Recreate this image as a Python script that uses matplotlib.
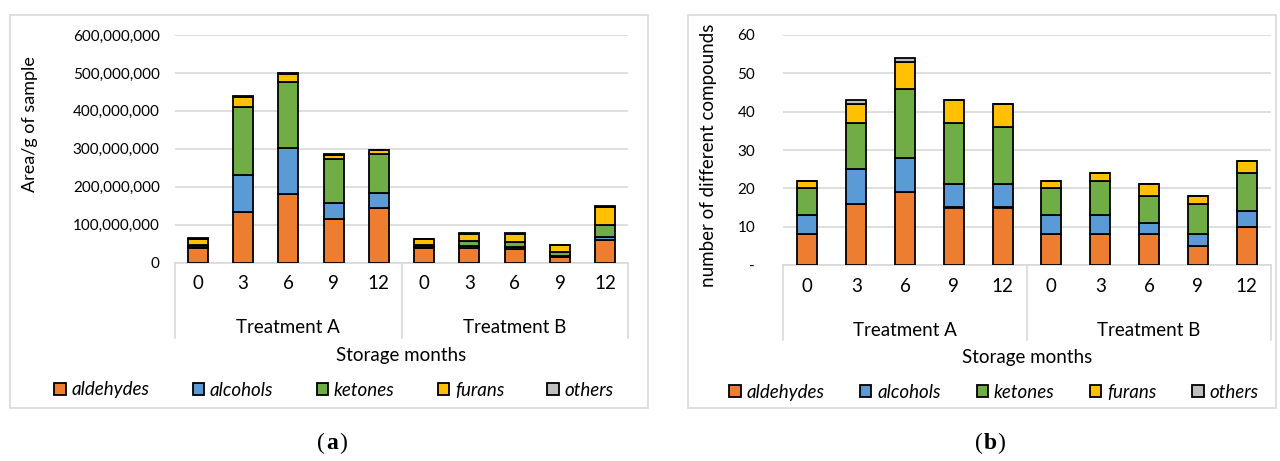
import numpy as np
import matplotlib
matplotlib.use('Agg')
import matplotlib.pyplot as plt
from matplotlib.patches import Rectangle
from matplotlib.ticker import FuncFormatter, MultipleLocator

plt.rcParams['font.family'] = ['Lato', 'DejaVu Sans']

# storage months per treatment
months = ['0', '3', '6', '9', '12']
groups = ['Treatment A', 'Treatment B']
classes = ['aldehydes', 'alcohols', 'ketones', 'furans', 'others']
colors = ['#ED7D31', '#5B9BD5', '#70AD47', '#FFC000', '#BFBFBF']

# (a) peak area per g of sample, Treatment A months then Treatment B months
area_aldehydes = [38e6, 133e6, 180e6, 114e6, 144e6, 37e6, 38e6, 36e6, 15e6, 59e6]
area_alcohols = [3e6, 97e6, 123e6, 44e6, 40e6, 3e6, 5e6, 4e6, 3e6, 7e6]
area_ketones = [6e6, 181e6, 172e6, 115e6, 102e6, 6e6, 14e6, 14e6, 10e6, 34e6]
area_furans = [15e6, 26e6, 21e6, 10e6, 10e6, 15e6, 18e6, 22e6, 18e6, 46e6]
area_others = [2e6, 3e6, 3e6, 2e6, 2e6, 2e6, 2e6, 1e6, 1e6, 2e6]

# (b) number of different compounds
n_aldehydes = [8, 16, 19, 15, 15, 8, 8, 8, 5, 10]
n_alcohols = [5, 9, 9, 6, 6, 5, 5, 3, 3, 4]
n_ketones = [7, 12, 18, 16, 15, 7, 9, 7, 8, 10]
n_furans = [2, 5, 7, 6, 6, 2, 2, 3, 2, 3]
n_others = [0, 1, 1, 0, 0, 0, 0, 0, 0, 0]

grid_c = '#D9D9D9'
W, H = 1280, 461
fig = plt.figure(figsize=(W / 100, H / 100), dpi=100)

# panel frames
for x0, x1 in [(10, 648), (688, 1276)]:
    fig.patches.append(Rectangle((x0 / W, 1 - 408 / H), (x1 - x0) / W, (408 - 15) / H,
                                 transform=fig.transFigure, fill=False,
                                 edgecolor=grid_c, lw=1.2))


def stacked(ax, series, bar_w):
    x = np.arange(len(series[0]))
    bottom = np.zeros(len(x))
    handles = []
    for vals, c, name in zip(series, colors, classes):
        vals = np.array(vals, dtype=float)
        b = ax.bar(x, vals, bar_w, bottom=bottom, color=c, edgecolor='black',
                   linewidth=1.3, label=name, zorder=3)
        handles.append(b)
        bottom += vals
    ax.set_xlim(-0.5, len(x) - 0.5)
    ax.set_xticks(x)
    ax.set_xticklabels(months * 2, fontsize=13.5)
    ax.tick_params(axis='x', length=0, pad=9)
    ax.tick_params(axis='y', length=0, labelsize=11)
    ax.yaxis.grid(True, color=grid_c, lw=1.2, zorder=0)
    for s in ['top', 'right', 'left']:
        ax.spines[s].set_visible(False)
    ax.spines['bottom'].set_color(grid_c)
    ax.spines['bottom'].set_linewidth(1.2)
    # two-level category axis
    trans = ax.get_xaxis_transform()
    axh = ax.get_window_extent().height
    depth = -75 / axh
    for xs in [-0.5, 4.5, 9.5]:
        ax.plot([xs, xs], [0, depth], color=grid_c, lw=1.2, transform=trans,
                clip_on=False)
    for gi, g in enumerate(groups):
        ax.text(gi * 5 + 2, -65 / axh, g, transform=trans, ha='center',
                va='center', fontsize=13.5)
    ax.text(4.5, -93 / axh, 'Storage months', transform=trans, ha='center',
            va='center', fontsize=13.5)
    return handles


def add_legend(handles, cx, cy, spacing):
    fig.legend(handles=handles, labels=classes, loc='center', ncol=5,
               bbox_to_anchor=(cx / W, 1 - cy / H), frameon=False,
               prop={'style': 'italic', 'size': 13.5}, handlelength=0.6,
               handleheight=0.6, handletextpad=0.32, columnspacing=spacing)


# (a)
ax1 = fig.add_axes([175 / W, 1 - 262.5 / H, (628 - 175) / W, (262.5 - 35) / H])
h1 = stacked(ax1, [area_aldehydes, area_alcohols, area_ketones, area_furans, area_others], 0.44)
ax1.set_ylim(0, 600e6)
ax1.yaxis.set_major_locator(MultipleLocator(100e6))
ax1.yaxis.set_major_formatter(FuncFormatter(lambda v, p: f'{v:,.0f}'))
ax1.tick_params(axis='y', pad=11)
ax1.set_ylabel('Area/g of sample', fontsize=13)
ax1.yaxis.set_label_coords(-137 / 453, 0.61)
add_legend(h1, 334, 390, 2.3)

# (b)
ax2 = fig.add_axes([783 / W, 1 - 265 / H, (1271 - 783) / W, (265 - 35) / H])
h2 = stacked(ax2, [n_aldehydes, n_alcohols, n_ketones, n_furans, n_others], 0.41)
ax2.set_ylim(0, 60)
ax2.yaxis.set_major_locator(MultipleLocator(10))
ax2.yaxis.set_major_formatter(FuncFormatter(lambda v, p: '-' if v == 0 else f'{v:.0f}'))
ax2.tick_params(axis='y', pad=20)
ax2.set_ylabel('number of different compounds', fontsize=13.5)
ax2.yaxis.set_label_coords(-66 / 488, 0.478)
add_legend(h2, 994, 392, 1.9)

# panel captions
for cx, letter in [(332, 'a'), (990, 'b')]:
    y = 1 - 443 / H
    fig.text(cx / W, y, letter, ha='center', va='center', fontsize=17,
             fontweight='bold', family='Liberation Serif')
    fig.text((cx - 7) / W, y, '(', ha='right', va='center', fontsize=17,
             family='Liberation Serif')
    fig.text((cx + 7) / W, y, ')', ha='left', va='center', fontsize=17,
             family='Liberation Serif')

fig.savefig('out.png', dpi=100)
